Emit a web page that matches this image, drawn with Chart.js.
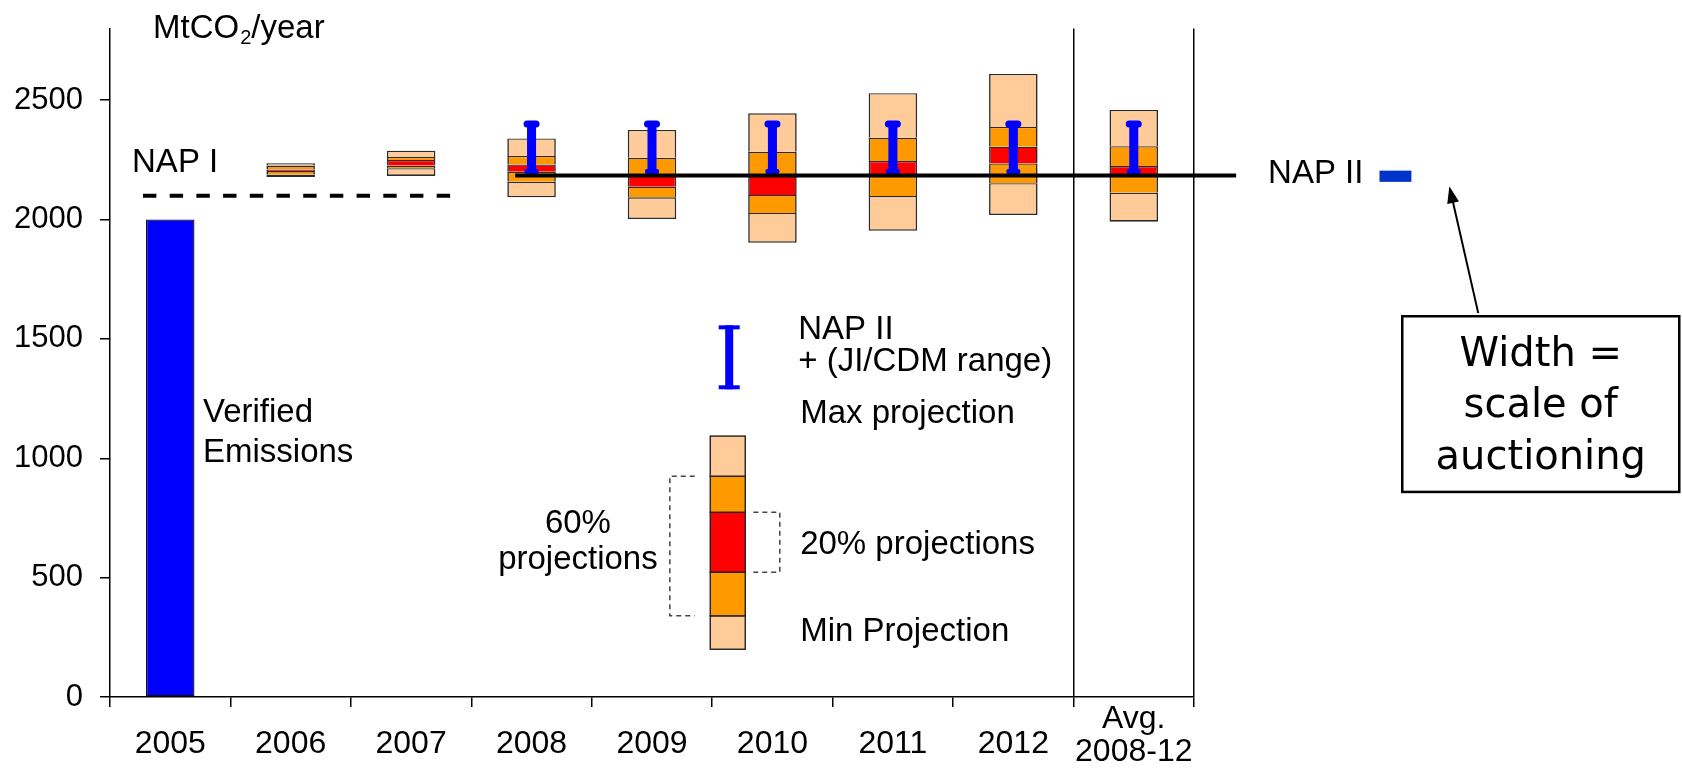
<!DOCTYPE html>
<html>
<head>
<meta charset="utf-8">
<script src="https://cdn.jsdelivr.net/npm/chart.js@4.4.0/dist/chart.umd.min.js"></script>
<style>
  html, body { margin: 0; padding: 0; background: #fff; }
  #wrap { width: 1682px; height: 770px; }
</style>
</head>
<body>
<div id="wrap"><canvas id="chart" width="1682" height="770"></canvas></div>
<script>
// x categories and y ticks
const years = ['2005', '2006', '2007', '2008', '2009', '2010', '2011', '2012', ['Avg.', '2008-12']];
const yTicks = [0, 500, 1000, 1500, 2000, 2500];

// verified emissions (MtCO2/year)
const verified = [2000, null, null, null, null, null, null, null, null];

// projection bands: min, 60% low, 20% low, 20% high, 60% high, max
const projMin  = [null, 2178, 2183, 2093, 2002, 1903, 1953, 2019, 1991];
const proj60Lo = [null, 2188, 2215, 2158, 2093, 2028, 2099, 2152, 2112];
const proj20Lo = [null, 2203, 2226, 2200, 2138, 2103, 2185, 2235, 2190];
const proj20Hi = [null, 2210, 2250, 2231, 2185, 2185, 2245, 2305, 2224];
const proj60Hi = [null, 2226, 2262, 2266, 2259, 2284, 2343, 2388, 2307];
const projMax  = [null, 2236, 2288, 2340, 2375, 2445, 2529, 2610, 2459];

// NAP II + JI/CDM range
const rangeLo = [null, null, null, 2195, 2195, 2195, 2195, 2195, 2195];
const rangeHi = [null, null, null, 2398, 2398, 2398, 2398, 2398, 2398];

// allocation caps
const napI = 2100;
const napII = 2185;

// key sample (drawn in the legend area)
const keyBand = [200, 340, 523, 774, 925, 1093];
const keyRange = [1289, 1557];

const PEACH = '#FFCC99', ORANGE = '#FF9900', RED = '#FF0000', BLUE = '#0000FF';
const SANS = '"Liberation Sans", Arial, sans-serif';

const pair = (lo, hi) => lo.map((v, i) => v == null ? null : [v, hi[i]]);

function band(label, lo, hi, color, bottomEdge) {
    return {
        label: label,
        data: pair(lo, hi),
        backgroundColor: color,
        borderColor: '#2a2a2a',
        borderWidth: { top: 1.3, left: 1.6, right: 1.6, bottom: bottomEdge ? 1.6 : 0 },
        borderSkipped: false,
        grouped: false,
        barPercentage: 0.403,
        categoryPercentage: 1,
        order: 1
    };
}

const annotate = {
    id: 'annotate',
    afterDatasetsDraw(chart) {
        const ctx = chart.ctx;
        const xs = chart.scales.x, ys = chart.scales.y;
        const x0 = xs.getPixelForValue(0);
        const step = xs.getPixelForValue(1) - x0;
        const X = i => x0 + i * step;
        const Y = v => ys.getPixelForValue(v);
        ctx.save();

        // caps on the blue range bars
        ctx.fillStyle = BLUE;
        chart.getDatasetMeta(0).data.forEach((bar, k) => {
            if (rangeHi[k] == null) return;
            ctx.beginPath(); ctx.roundRect(bar.x - 8, bar.y - 4, 16, 7, 3.5); ctx.fill();
            ctx.beginPath(); ctx.roundRect(bar.x - 7, bar.base - 4, 14, 5, 2); ctx.fill();
        });

        // NAP I dashed, NAP II solid
        ctx.strokeStyle = '#000';
        ctx.lineWidth = 4;
        ctx.setLineDash([13.4, 13.3]);
        ctx.beginPath(); ctx.moveTo(X(-0.226), Y(napI)); ctx.lineTo(X(2.324), Y(napI)); ctx.stroke();
        ctx.setLineDash([]);
        ctx.beginPath(); ctx.moveTo(X(2.864), Y(napII)); ctx.lineTo(X(8.85), Y(napII)); ctx.stroke();

        // texts
        ctx.fillStyle = '#000';
        ctx.textBaseline = 'middle';
        ctx.textAlign = 'left';
        ctx.font = '33px ' + SANS;
        ctx.fillText('NAP I', X(-0.317), Y(2236));
        ctx.fillText('Verified', X(0.272), Y(1191));
        ctx.fillText('Emissions', X(0.272), Y(1023));
        ctx.fillText('NAP II', X(5.214), Y(1537));
        ctx.fillText('+ (JI/CDM range)', X(5.214), Y(1405));
        ctx.fillText('Max projection', X(5.23), Y(1188));
        ctx.fillText('20% projections', X(5.23), Y(636));
        ctx.fillText('Min Projection', X(5.23), Y(273));
        ctx.fillText('NAP II', X(9.115), Y(napII + 5));
        ctx.textAlign = 'center';
        ctx.fillText('60%', X(3.385), Y(727));
        ctx.fillText('projections', X(3.385), Y(574));

        // axis unit with subscript
        ctx.textAlign = 'left';
        ctx.textBaseline = 'alphabetic';
        let ux = X(-0.143);
        const uy = Y(2762);
        ctx.fillText('MtCO', ux, uy); ux += ctx.measureText('MtCO').width;
        ctx.font = '20px ' + SANS;
        ctx.fillText('2', ux + 1, uy + 6); ux += ctx.measureText('2').width + 1;
        ctx.font = '33px ' + SANS;
        ctx.fillText('/year', ux, uy);

        // key: range bar
        const kx = X(4.641);
        ctx.fillStyle = BLUE;
        ctx.fillRect(kx - 4, Y(keyRange[1]), 8, Y(keyRange[0]) - Y(keyRange[1]));
        ctx.fillRect(kx - 10.5, Y(keyRange[1]), 21, 4);
        ctx.fillRect(kx - 10.5, Y(keyRange[0]) - 4, 21, 4);

        // key: band
        const bx = X(4.629);
        const layerColors = [PEACH, ORANGE, RED, ORANGE, PEACH];
        ctx.strokeStyle = '#222';
        ctx.lineWidth = 1.4;
        layerColors.forEach((c, j) => {
            const top = Y(keyBand[j + 1]), bot = Y(keyBand[j]);
            ctx.fillStyle = c;
            ctx.fillRect(bx - 17.5, top, 35, bot - top);
            ctx.strokeRect(bx - 17.5, top, 35, bot - top);
        });

        // key: dashed brackets
        ctx.strokeStyle = '#444';
        ctx.lineWidth = 1.5;
        ctx.setLineDash([5, 4]);
        ctx.beginPath();
        ctx.moveTo(X(4.355), Y(keyBand[4])); ctx.lineTo(X(4.148), Y(keyBand[4]));
        ctx.lineTo(X(4.148), Y(keyBand[1])); ctx.lineTo(X(4.355), Y(keyBand[1]));
        ctx.stroke();
        ctx.beginPath();
        ctx.moveTo(X(4.841), Y(keyBand[3])); ctx.lineTo(X(5.061), Y(keyBand[3]));
        ctx.lineTo(X(5.061), Y(keyBand[2])); ctx.lineTo(X(4.841), Y(keyBand[2]));
        ctx.stroke();
        ctx.setLineDash([]);

        // right side: auctioning marker, arrow and note box
        ctx.fillStyle = '#0033CC';
        ctx.fillRect(X(10.04), Y(2205), X(10.305) - X(10.04), Y(2158) - Y(2205));

        const ax1 = X(10.86), ay1 = Y(1608), ax2 = X(10.62), ay2 = Y(2140);
        const ang = Math.atan2(ay2 - ay1, ax2 - ax1);
        ctx.strokeStyle = '#000';
        ctx.lineWidth = 2;
        ctx.beginPath();
        ctx.moveTo(ax1, ay1);
        ctx.lineTo(ax2 - 14 * Math.cos(ang), ay2 - 14 * Math.sin(ang));
        ctx.stroke();
        ctx.fillStyle = '#000';
        ctx.beginPath();
        ctx.moveTo(ax2, ay2);
        ctx.lineTo(ax2 - 17 * Math.cos(ang) + 6 * Math.sin(ang), ay2 - 17 * Math.sin(ang) - 6 * Math.cos(ang));
        ctx.lineTo(ax2 - 17 * Math.cos(ang) - 6 * Math.sin(ang), ay2 - 17 * Math.sin(ang) + 6 * Math.cos(ang));
        ctx.closePath();
        ctx.fill();

        ctx.lineWidth = 2.5;
        ctx.strokeRect(X(10.229), Y(1595), X(12.529) - X(10.229), Y(859) - Y(1595));
        ctx.font = '40px "DejaVu Sans", Verdana, sans-serif';
        ctx.textAlign = 'center';
        ctx.textBaseline = 'middle';
        ctx.fillText('Width =', X(11.379), Y(1432));
        ctx.fillText('scale of', X(11.379), Y(1215));
        ctx.fillText('auctioning', X(11.379), Y(1000));

        ctx.restore();
    }
};

new Chart(document.getElementById('chart'), {
    type: 'bar',
    data: {
        labels: years,
        datasets: [
            {
                label: 'NAP II + (JI/CDM range)',
                data: pair(rangeLo, rangeHi),
                backgroundColor: BLUE,
                borderWidth: 0,
                grouped: false,
                barPercentage: 0.075,
                categoryPercentage: 1,
                order: 0
            },
            {
                label: 'Verified Emissions',
                data: verified,
                backgroundColor: BLUE,
                borderColor: '#111',
                borderWidth: 1.3,
                borderSkipped: false,
                grouped: false,
                barPercentage: 0.403,
                categoryPercentage: 1,
                order: 1
            },
            band('Min projection', projMin, proj60Lo, PEACH, true),
            band('60% low', proj60Lo, proj20Lo, ORANGE, false),
            band('20% projections', proj20Lo, proj20Hi, RED, false),
            band('60% high', proj20Hi, proj60Hi, ORANGE, false),
            band('Max projection', proj60Hi, projMax, PEACH, false)
        ]
    },
    options: {
        responsive: false,
        animation: false,
        devicePixelRatio: 1,
        layout: { padding: { top: 28.6, right: 488, left: 0, bottom: 0 } },
        plugins: { legend: { display: false }, tooltip: { enabled: false } },
        scales: {
            x: {
                offset: true,
                border: { display: true, color: '#000', width: 1.5 },
                grid: {
                    offset: true,
                    lineWidth: 1.5,
                    tickLength: 10,
                    tickColor: '#000',
                    color: c => (c.index === 8 || c.type === 'scale') ? '#000' : 'rgba(0,0,0,0)'
                },
                ticks: {
                    color: '#000',
                    autoSkip: false,
                    maxRotation: 0,
                    minRotation: 0,
                    padding: -4.5,
                    font: c => ({ family: SANS, size: 32, lineHeight: c.index === 8 ? '33px' : '83px' })
                },
                afterFit: s => { s.height = 73; }
            },
            y: {
                min: 0,
                max: 2800,
                border: { display: true, color: '#000', width: 1.5 },
                grid: { drawOnChartArea: false, tickLength: 10, tickColor: '#000', lineWidth: 1.5 },
                afterBuildTicks: s => { s.ticks = yTicks.map(v => ({ value: v })); },
                ticks: {
                    color: '#000',
                    padding: 17,
                    font: { family: SANS, size: 31 },
                    callback: v => String(v)
                },
                afterFit: s => { s.width = 110; s.paddingTop = 0; s.paddingBottom = 0; }
            }
        }
    },
    plugins: [annotate]
});
</script>
</body>
</html>
